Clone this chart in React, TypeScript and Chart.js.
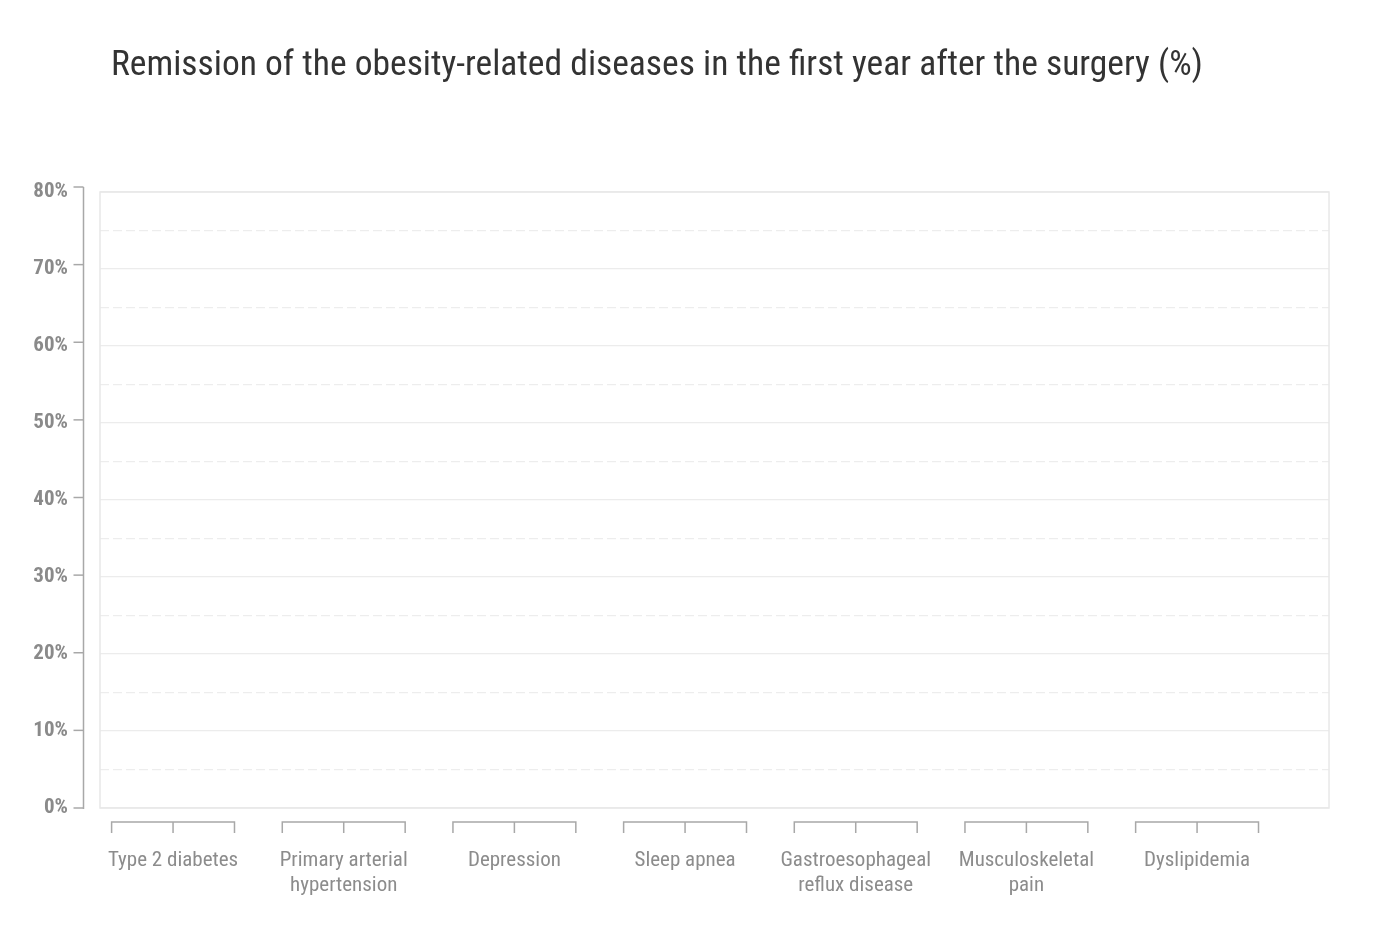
import React, { useEffect, useRef } from "react";
import { Chart, registerables } from "chart.js";

Chart.register(...registerables);

const TITLE = "Remission of the obesity-related diseases in the first year after the surgery (%)";

const categories: string[][] = [
  ["Type 2 diabetes"],
  ["Primary arterial", "hypertension"],
  ["Depression"],
  ["Sleep apnea"],
  ["Gastroesophageal", "reflux disease"],
  ["Musculoskeletal", "pain"],
  ["Dyslipidemia"],
];

// The reference shows no bars: every value is empty.
const seriesFirst: (number | null)[] = [null, null, null, null, null, null, null];
const seriesSecond: (number | null)[] = [null, null, null, null, null, null, null];

const yTickValues: number[] = [0, 10, 20, 30, 40, 50, 60, 70, 80];
const yMinorValues: number[] = [5, 15, 25, 35, 45, 55, 65, 75];

const FONT = "'Roboto Condensed', Roboto, sans-serif";

const framePlugin = {
  id: "frame",
  beforeDatasetsDraw(chart: any) {
    const { ctx, chartArea } = chart;
    ctx.save();
    ctx.strokeStyle = "#e8e8e8";
    ctx.lineWidth = 1.5;
    ctx.strokeRect(chartArea.left, chartArea.top, chartArea.right - chartArea.left, chartArea.bottom - chartArea.top);
    ctx.restore();
  },
  afterDraw(chart: any) {
    const { ctx, chartArea } = chart;
    const y = chart.scales.y;
    const x = chart.scales.x;
    ctx.save();
    // offset y axis line with ticks
    const ax = chartArea.left - 16.5;
    ctx.strokeStyle = "#a8a8a8";
    ctx.lineWidth = 1.5;
    ctx.beginPath();
    ctx.moveTo(ax, y.getPixelForValue(80) - 5);
    ctx.lineTo(ax, y.getPixelForValue(0) + 1);
    ctx.stroke();
    yTickValues.forEach((v) => {
      const py = y.getPixelForValue(v) - (v / 80) * 5;
      ctx.beginPath();
      ctx.moveTo(ax - 10, py);
      ctx.lineTo(ax, py);
      ctx.stroke();
    });
    // bracket under each category group
    const top = chartArea.bottom + 14;
    const bot = chartArea.bottom + 25;
    categories.forEach((_, i) => {
      const c = x.getPixelForValue(i);
      const l = x.getPixelForValue(i - 0.36);
      const r = x.getPixelForValue(i + 0.36);
      ctx.beginPath();
      ctx.moveTo(l, bot);
      ctx.lineTo(l, top);
      ctx.lineTo(r, top);
      ctx.lineTo(r, bot);
      ctx.moveTo(c, top);
      ctx.lineTo(c, bot);
      ctx.stroke();
    });
    ctx.restore();
  },
};

export default function App() {
  const canvasRef = useRef<HTMLCanvasElement | null>(null);

  useEffect(() => {
    if (!canvasRef.current) return;
    const chart = new Chart(canvasRef.current, {
      type: "bar",
      data: {
        datasets: [
          {
            label: "Series 1",
            data: seriesFirst.map((v, i) => ({ x: i - 0.18, y: v })) as any,
            backgroundColor: "#4a90c2",
          },
          {
            label: "Series 2",
            data: seriesSecond.map((v, i) => ({ x: i + 0.18, y: v })) as any,
            backgroundColor: "#a0c4e0",
          },
        ],
      },
      options: {
        animation: false,
        responsive: true,
        maintainAspectRatio: false,
        layout: { padding: { top: 184, right: 36, left: 0, bottom: 0 } },
        plugins: {
          legend: { display: false },
          title: { display: false },
          tooltip: { enabled: false },
        },
        scales: {
          x: {
            type: "linear",
            offset: false,
            min: -0.428,
            max: 6.773,
            grid: { display: false, drawTicks: false, offset: false },
            border: { display: false },
            afterBuildTicks: (scale: any) => {
              scale.ticks = categories.map((_, i) => ({ value: i }));
            },
            afterFit: (scale: any) => {
              scale.height = 112;
            },
            ticks: {
              autoSkip: false,
              maxRotation: 0,
              padding: 40,
              color: "#8c8c8c",
              font: { family: FONT, size: 21, weight: 400, lineHeight: 1.2 },
              callback: (v: any) => categories[Math.round(Number(v))] ?? "",
            },
          },
          y: {
            position: "left",
            min: 0,
            max: 80,
            afterBuildTicks: (scale: any) => {
              scale.ticks = yTickValues.map((v) => ({ value: v }));
            },
            afterFit: (scale: any) => {
              scale.width = 92;
            },
            grid: { color: "#ececec", lineWidth: 1.2, drawTicks: false },
            border: { display: false },
            ticks: {
              padding: 32,
              color: "#8a8a8a",
              font: { family: FONT, size: 21, weight: "bold" },
              callback: (v: any) => `${v}%`,
            },
          },
          y2: {
            position: "left",
            min: 0,
            max: 80,
            afterBuildTicks: (scale: any) => {
              scale.ticks = yMinorValues.map((v) => ({ value: v }));
            },
            afterFit: (scale: any) => {
              scale.width = 0;
            },
            grid: { color: "#ededed", lineWidth: 1.2, drawTicks: false },
            border: { display: false, dash: [9, 4] },
            ticks: { display: false },
          },
        },
      },
      plugins: [framePlugin],
    });
    return () => chart.destroy();
  }, []);

  return (
    <div style={{ position: "relative", width: 1357, height: 912 }}>
      <div
        style={{
          position: "absolute",
          left: 103,
          top: 38,
          fontFamily: FONT,
          fontSize: 35.5,
          lineHeight: "35.5px",
          color: "#333333",
          whiteSpace: "nowrap",
          zIndex: 1,
        }}
      >
        {TITLE}
      </div>
      <div style={{ position: "absolute", left: 0, top: 0, width: 1357, height: 912 }}>
        <canvas ref={canvasRef} />
      </div>
    </div>
  );
}
